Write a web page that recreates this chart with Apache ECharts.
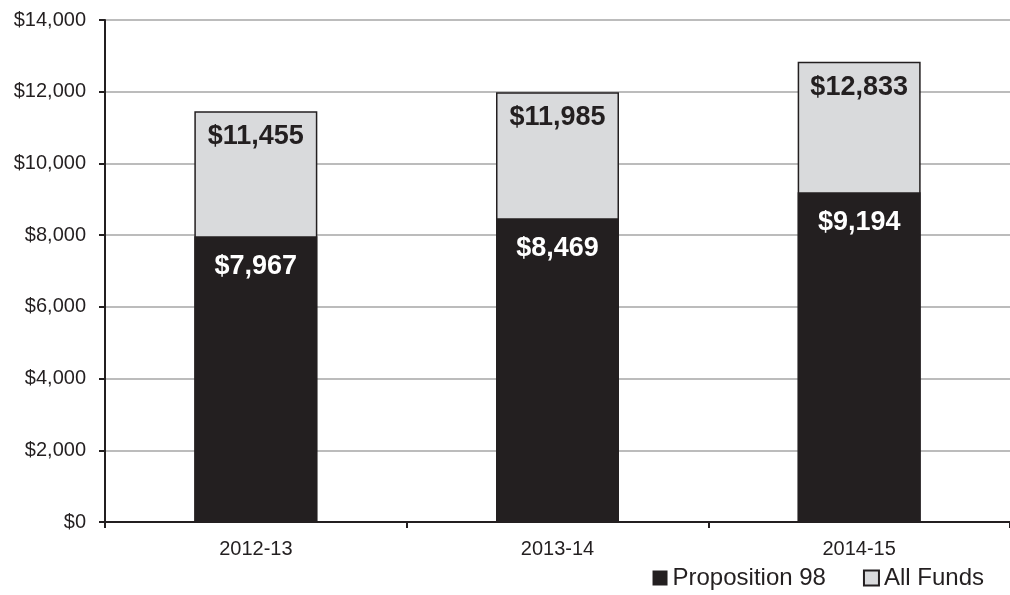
<!DOCTYPE html>
<html><head><meta charset="utf-8">
<script src="https://cdn.jsdelivr.net/npm/echarts@6/dist/echarts.min.js"></script>
<style>html,body{margin:0;padding:0;background:#fff}#c{width:1010px;height:595px}</style>
</head><body><div id="c"></div>
<script>
const categories = ['2012-13', '2013-14', '2014-15'];
const prop98 = [7967, 8469, 9194];
const allFunds = [11455, 11985, 12833];
const yTicks = [0, 2000, 4000, 6000, 8000, 10000, 12000, 14000];

const fmt = v => '$' + v.toLocaleString('en-US');
const chart = echarts.init(document.getElementById('c'));
chart.setOption({
  animation: false,
  textStyle: { fontFamily: 'Liberation Sans, Arial, sans-serif' },
  grid: { left: 105, right: 0, top: 20, bottom: 73 },
  legend: {
    data: ['Proposition 98', 'All Funds'],
    right: 21, bottom: 0,
    itemWidth: 15, itemHeight: 15, itemGap: 37,
    icon: 'rect',
    textStyle: { fontSize: 24, color: '#231f20', padding: [0, 0, 0, 0] }
  },
  xAxis: {
    type: 'category', data: categories,
    axisLine: { lineStyle: { color: '#231f20', width: 2 } },
    axisTick: { show: true, length: 6, lineStyle: { color: '#231f20', width: 2 } },
    axisLabel: { fontSize: 20, color: '#231f20', margin: 17 }
  },
  yAxis: {
    type: 'value', min: yTicks[0], max: yTicks[yTicks.length - 1], interval: 2000,
    axisLine: { show: true, lineStyle: { color: '#231f20', width: 2 } },
    axisTick: { show: true, length: 6, lineStyle: { color: '#231f20', width: 2 } },
    axisLabel: { fontSize: 20, color: '#231f20', margin: 19, formatter: v => fmt(v) },
    splitLine: { lineStyle: { color: '#a6a6a6', width: 1.5 } }
  },
  series: [
    {
      name: 'All Funds', type: 'bar', data: allFunds, barWidth: 123, barGap: '-100%',
      itemStyle: { color: '#d9dadc', borderColor: '#231f20', borderWidth: 1.5 },
      label: { show: true, position: 'insideTop', distance: 12, fontSize: 27, fontWeight: 'bold', color: '#231f20', formatter: p => fmt(p.value) }
    },
    {
      name: 'Proposition 98', type: 'bar', data: prop98, barWidth: 123, barGap: '-100%',
      itemStyle: { color: '#231f20' },
      label: { show: true, position: 'insideTop', distance: 17, fontSize: 27, fontWeight: 'bold', color: '#ffffff', formatter: p => fmt(p.value) }
    }
  ]
});
</script></body></html>
